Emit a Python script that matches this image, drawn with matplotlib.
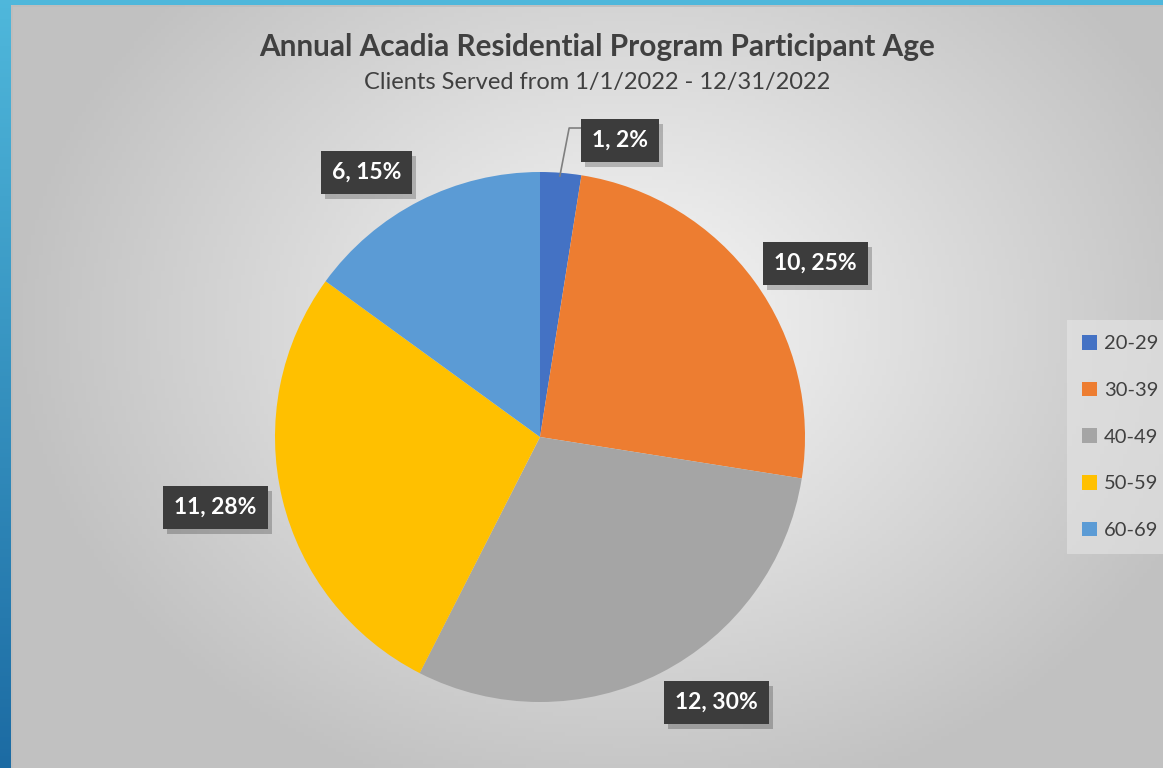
import matplotlib.pyplot as plt
import matplotlib.patheffects as pe
import numpy as np

# data
age_groups = ["20-29", "30-39", "40-49", "50-59", "60-69"]
clients = [1, 10, 12, 11, 6]
pct_labels = ["2%", "25%", "30%", "28%", "15%"]
colors = ["#4472c4", "#ed7d31", "#a5a5a5", "#ffc000", "#5b9bd5"]

# label box centres, in pie radius units
label_pos = [(0.30, 1.12), (1.04, 0.655), (0.665, -1.00), (-1.225, -0.265), (-0.655, 1.0)]

W, H = 1163, 768
fig = plt.figure(figsize=(W / 100, H / 100), dpi=100)
plt.rcParams['font.family'] = ['Lato', 'DejaVu Sans']

# background: blue frame + radial grey gradient
bg = fig.add_axes([0, 0, 1, 1])
bg.set_xlim(0, W)
bg.set_ylim(H, 0)
bg.axis("off")
yy = np.linspace(0, 1, 200)[:, None]
blue_top = np.array([0.31, 0.72, 0.86])
blue_bot = np.array([0.11, 0.42, 0.64])
frame = blue_top + (blue_bot - blue_top) * yy[..., None]
bg.imshow(np.repeat(frame, 2, axis=1), extent=[0, W, H, 0], aspect="auto")
gy, gx = np.mgrid[0:H:4, 0:W:4]
d = np.sqrt(((gx - 620) / 700.0) ** 2 + ((gy - 320) / 560.0) ** 2)
v = np.clip(0.97 - 0.24 * d, 0.76, 1)
bg.imshow(np.dstack([v, v, v]), extent=[11, W, H, 5], aspect="auto")
bg.plot([11.5, 11.5, W], [H, 5.5, 5.5], color="#bdbdbd", lw=1.2)

# pie
cx, cy, r = 540, 437, 265
ax = fig.add_axes([(cx - r) / W, (H - cy - r) / H, 2 * r / W, 2 * r / H])
ax.pie(clients, colors=colors, startangle=90, counterclock=False, radius=1)
ax.set_xlim(-1, 1)
ax.set_ylim(-1, 1)
ax.set_aspect("auto")
ax.axis("off")

# leader line for smallest slice
ax.plot([0.075, 0.11, 0.155], [0.985, 1.166, 1.166], color="#7f7f7f", lw=1.2, clip_on=False)

for n, p, (lx, ly) in zip(clients, pct_labels, label_pos):
    t = ax.text(lx, ly, f"{n}, {p}", ha="center", va="center", fontsize=16.5,
                fontweight="bold", color="white",
                bbox=dict(boxstyle="square,pad=0.48", fc="#3c3c3c", ec="none"))
    t.get_bbox_patch().set_path_effects(
        [pe.SimplePatchShadow(offset=(3, -4), shadow_rgbFace="black", alpha=0.22), pe.Normal()])

# titles
fig.text(597 / W, 1 - 47 / H, "Annual Acadia Residential Program Participant Age",
         ha="center", va="center", fontsize=21.4, fontweight="bold", color="#404040")
fig.text(597 / W, 1 - 82 / H, "Clients Served from 1/1/2022 - 12/31/2022",
         ha="center", va="center", fontsize=17, color="#404040")

# legend
handles = [plt.Rectangle((0, 0), 1, 1, fc=c) for c in colors]
leg = fig.legend(handles, age_groups, loc="center left", bbox_to_anchor=(1067 / W, 1 - 437 / H),
                 borderaxespad=0, frameon=True, fontsize=14.5, labelcolor="#404040",
                 handlelength=0.75, handleheight=0.75, handletextpad=0.35, labelspacing=1.45,
                 borderpad=0.75, fancybox=False)
leg.get_frame().set_facecolor("#e6e6e6")
leg.get_frame().set_edgecolor("none")
leg.get_frame().set_alpha(0.6)

fig.savefig("out.png", dpi=100)
